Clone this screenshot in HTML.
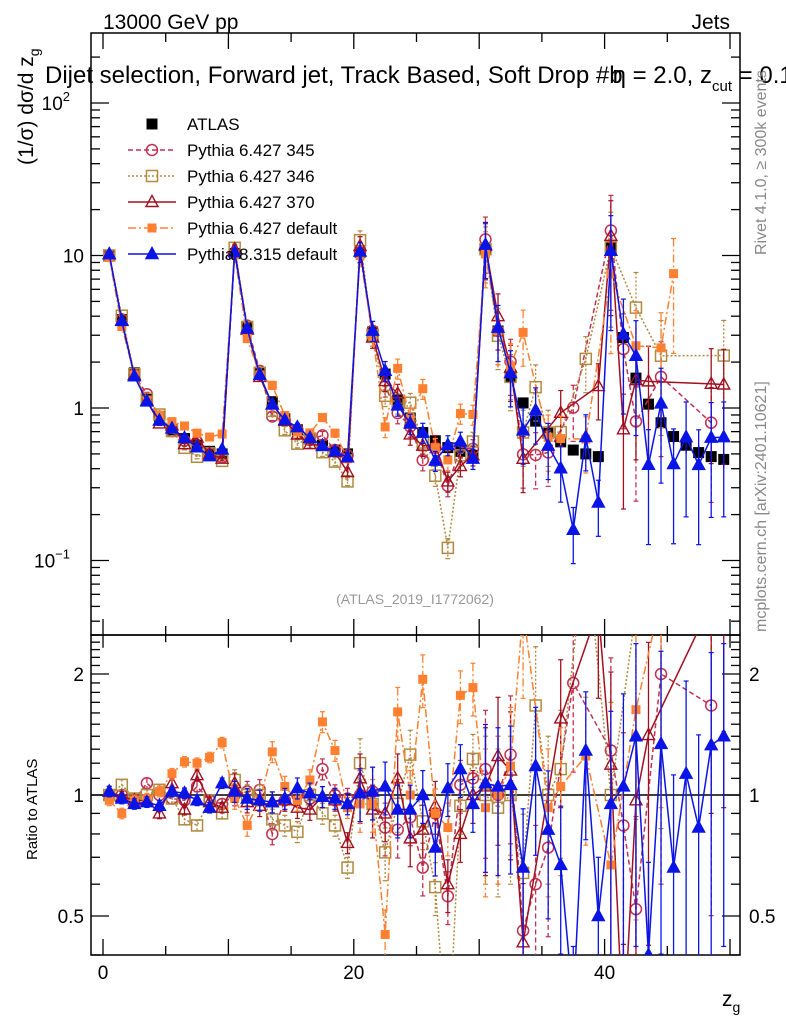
<!DOCTYPE html>
<html><head><meta charset="utf-8"><style>
html,body{margin:0;background:#fff;width:786px;height:1024px;overflow:hidden;}
svg{display:block;font-family:"Liberation Sans",sans-serif;}
</style></head><body>
<svg id="chart" width="786" height="1024" viewBox="0 0 786 1024" xmlns="http://www.w3.org/2000/svg">
<defs>
<clipPath id="clipMain"><rect x="91" y="33" width="649" height="602"/></clipPath>
<clipPath id="clipRatio"><rect x="91" y="635" width="649" height="320"/></clipPath>
</defs>
<rect x="0" y="0" width="786" height="1024" fill="#fff"/>
<text x="103" y="29" font-size="21">13000 GeV pp</text>
<text x="730" y="29" font-size="21" text-anchor="end">Jets</text>
<text x="45" y="83" font-size="24">Dijet selection, Forward jet, Track Based, Soft Drop #b<tspan dx="-10">η = 2.0, z</tspan><tspan font-size="15" dy="8">cut</tspan><tspan dy="-8"> = 0.1</tspan></text>
<text transform="translate(33,165) rotate(-90)" font-size="21">(1/σ) dσ/d z<tspan font-size="14" dy="6">g</tspan></text>
<text transform="translate(37,860) rotate(-90)" font-size="15">Ratio to ATLAS</text>
<text x="722" y="1006" font-size="21">z<tspan font-size="14" dy="6">g</tspan></text>
<text transform="translate(766,255) rotate(-90)" font-size="16" fill="#888">Rivet 4.1.0, ≥ 300k events</text>
<text transform="translate(766,632) rotate(-90)" font-size="16" fill="#888">mcplots.cern.ch [arXiv:2401.10621]</text>
<text x="415" y="604" font-size="14" fill="#999" text-anchor="middle">(ATLAS_2019_I1772062)</text>
<g id="axes"></g>
<g id="mainSeries" clip-path="url(#clipMain)"></g>
<g id="ratioSeries" clip-path="url(#clipRatio)"></g>
<g id="legend"></g>
</svg>
<script>
const atlasValues=[10,3.8,1.7,1.15,0.88,0.72,0.63,0.57,0.52,0.5,
10.3,3.4,1.7,1.1,0.85,0.72,0.63,0.57,0.53,0.5,
10.5,3.15,1.67,1.13,0.86,0.69,0.61,0.55,0.52,0.49,
11,3.2,1.6,1.08,0.82,0.69,0.6,0.53,0.5,0.48,
11.3,2.9,1.57,1.06,0.8,0.65,0.57,0.51,0.48,0.46];
const ratio345=[1.0,1.0,0.97,1.07,1.0,0.98,0.97,1.05,0.97,0.95,
1.0,1.02,1.03,0.8,0.97,1.0,0.98,1.16,1.0,0.98,
1.0,1.02,0.83,0.82,0.88,0.66,0.9,0.56,1.06,1.1,
1.16,1.0,1.26,0.46,0.6,0.74,null,1.9,null,null,
1.29,0.84,0.52,null,2.0,null,null,null,1.67,null];
const ratio346=[1.0,1.06,0.98,1.0,1.03,0.98,0.87,0.84,0.97,0.9,
1.09,1.0,1.0,0.87,0.84,0.81,1.0,0.9,0.84,0.66,
1.2,0.95,0.72,0.95,1.26,0.86,0.59,0.22,0.94,1.23,
1.0,0.93,1.0,0.64,1.67,1.0,1.16,null,4.2,null,
1.0,null,2.9,null,2.75,null,null,null,null,4.8];
const ratio370=[1.02,0.99,0.97,0.97,0.9,1.07,0.92,1.12,0.96,0.93,
1.07,0.96,0.94,0.96,0.97,0.93,0.92,0.99,0.97,0.76,
1.1,0.92,0.9,1.1,0.78,0.82,0.94,0.6,0.8,1.0,
1.05,1.25,1.15,0.43,null,null,1.55,null,null,2.9,
1.19,0.25,0.97,1.41,null,null,null,null,3.0,3.1];
const ratioDefault=[0.97,0.9,0.97,0.98,1.02,1.13,1.21,1.2,1.24,1.35,
0.98,0.84,0.97,1.28,1.05,0.97,1.09,1.52,1.29,0.93,
0.95,0.95,0.45,1.61,1.0,1.94,0.9,0.83,1.77,1.85,
0.93,1.0,1.18,2.9,null,0.93,1.05,null,1.25,null,
0.67,null,1.63,null,3.1,11.7,null,null,null,null];
const ratioP8=[1.02,0.98,0.95,0.96,0.94,1.02,1.01,0.97,0.93,1.07,
1.02,0.98,0.97,0.96,0.98,1.04,1.01,0.99,0.98,0.95,
1.01,1.02,1.05,0.92,0.92,1.0,0.74,1.04,1.16,0.95,
1.07,1.05,1.06,0.66,1.18,0.82,0.67,0.3,1.29,0.5,
0.95,1.05,1.4,0.4,1.34,0.66,1.13,0.83,1.33,1.4];
const blockErrMC=[0.03,0.06,0.15,0.4,0.7];
const blockErrData=[0.02,0.03,0.05,0.08,0.12];
const xTicks=[0,5,10,15,20,25,30,35,40,45,50];
const xTickLabels=["0","20","40"];
const NS="http://www.w3.org/2000/svg";
const X0=91,X1=740,MT=33,MB=635,RB=955;
function xs(z){return 103+12.54*z;}
function ym(v){return 408-152.5*Math.log10(v);}
function yr(r){return 795-402*Math.log10(r);}
function el(tag,attrs,parent){const e=document.createElementNS(NS,tag);for(const k in attrs)e.setAttribute(k,attrs[k]);parent.appendChild(e);return e;}
const axes=document.getElementById('axes');
let f1=el('rect',{x:X0,y:MT,width:X1-X0,height:MB-MT,fill:'none',stroke:'#000','stroke-width':1.5},axes);


let f2=el('rect',{x:X0,y:MB,width:X1-X0,height:RB-MB,fill:'none',stroke:'#000','stroke-width':1.5},axes);


let one=el('line',{x1:X0,x2:X1,y1:yr(1),y2:yr(1),stroke:'#000','stroke-width':1.5},axes);


xTicks.forEach(t=>{const x=xs(t);const L=(t%10===0)?16:9;
 [[MT,MT+L],[MB,MB-L],[MB,MB+L*0.8],[RB,RB-L]].forEach(p=>{const tk=el('line',{x1:x,x2:x,y1:p[0],y2:p[1],stroke:'#000','stroke-width':1.3},axes);
 
 });});
[0,20,40].forEach((t,i)=>{const tx=el('text',{x:xs(t),y:979,'font-size':19,'text-anchor':'middle'},axes);tx.textContent=xTickLabels[i];
 
 });
for(let d=-2;d<=2;d++){for(let m=1;m<=9;m++){const v=m*Math.pow(10,d);const y=ym(v);if(y<MT||y>MB)continue;const L=m===1?18:9;
 [[X0,X0+L],[X1,X1-L]].forEach(p=>{const tk=el('line',{x1:p[0],x2:p[1],y1:y,y2:y,stroke:'#000','stroke-width':1.3},axes);
 
 });}}
const ylabs=[[100,"10","2"],[10,"10",""],[1,"1",""],[0.1,"10","−1"]];
ylabs.forEach(l=>{const t=el('text',{x:l[2]?70:84,y:ym(l[0])+7,'font-size':19,'text-anchor':'end'},axes);t.textContent=l[1];
 if(l[2]){const s=el('tspan',{'font-size':13,dy:-9},t);s.textContent=l[2];}
 
 });
[0.4,0.5,0.6,0.7,0.8,0.9,1,1.1,1.2,1.3,1.4,1.5,1.6,1.7,1.8,1.9,2,2.1,2.2,2.3,2.4,2.5].forEach(r=>{const y=yr(r);if(y<MB||y>RB)return;const L=(r===0.5||r===1||r===2)?18:9;
 [[X0,X0+L],[X1,X1-L]].forEach(p=>{const tk=el('line',{x1:p[0],x2:p[1],y1:y,y2:y,stroke:'#000','stroke-width':1.3},axes);
 
 });});
[[2,"2"],[1,"1"],[0.5,"0.5"]].forEach(l=>{[[84,'end'],[749,'start']].forEach(p=>{const t=el('text',{x:p[0],y:yr(l[0])+7,'font-size':19,'text-anchor':p[1]},axes);t.textContent=l[1];
 
 });});
const series=[
 {name:'pythia6-345',r:ratio345,color:'#c03050',dash:'5,3',marker:'circle',fill:false,label:'Pythia 6.427 345'},
 {name:'pythia6-346',r:ratio346,color:'#b08a40',dash:'2,2',marker:'square',fill:false,label:'Pythia 6.427 346'},
 {name:'pythia6-370',r:ratio370,color:'#a01020',dash:'',marker:'triangle',fill:false,label:'Pythia 6.427 370'},
 {name:'pythia6-default',r:ratioDefault,color:'#ff8030',dash:'8,3,2,3',marker:'fsquare',fill:true,label:'Pythia 6.427 default'},
 {name:'pythia8-default',r:ratioP8,color:'#0a14e6',dash:'',marker:'triangle',fill:true,label:'Pythia 8.315 default'}];
function marker(g,type,x,y,color,fill){let m;
 if(type==='circle')m=el('circle',{cx:x,cy:y,r:5.5,fill:'none',stroke:color,'stroke-width':1.5},g);
 else if(type==='square')m=el('rect',{x:x-5.5,y:y-5.5,width:11,height:11,fill:'none',stroke:color,'stroke-width':1.5},g);
 else if(type==='fsquare')m=el('rect',{x:x-4.5,y:y-4.5,width:9,height:9,fill:color},g);
 else if(type==='atlas')m=el('rect',{x:x-5.5,y:y-5.5,width:11,height:11,fill:'#000'},g);
 else m=el('polygon',{points:`${x},${y-6.5} ${x-6},${y+4.5} ${x+6},${y+4.5}`,fill:fill?color:'none',stroke:color,'stroke-width':1.4},g);
 return m;}
const mainG=document.getElementById('mainSeries'),ratioG=document.getElementById('ratioSeries');
const aG=el('g',{},mainG);


atlasValues.forEach((v,i)=>{const x=xs(i+0.5),e=blockErrData[Math.floor(i/10)];
 el('line',{x1:x,x2:x,y1:ym(v*(1+e)),y2:ym(v*(1-e)),stroke:'#000','stroke-width':1.3},aG);
 const m=marker(aG,'atlas',x,ym(v),'#000',true);
 
 });
series.forEach(s=>{
 const gm=el('g',{},mainG),gr=el('g',{},ratioG);
 
 
 
 
 let pm=[],pr=[];
 s.r.forEach((r,i)=>{if(r===null)return;const v=r*atlasValues[i];const x=xs(i+0.5);pm.push([x,ym(v)]);pr.push([x,yr(r)]);});
 const st={fill:'none',stroke:s.color,'stroke-width':1.5};if(s.dash)st['stroke-dasharray']=s.dash;
 el('polyline',Object.assign({points:pm.map(p=>p.join(',')).join(' ')},st),gm);
 el('polyline',Object.assign({points:pr.map(p=>p.join(',')).join(' ')},st),gr);
 s.r.forEach((r,i)=>{if(r===null)return;const a=atlasValues[i],v=r*a,x=xs(i+0.5),e=blockErrMC[Math.floor(i/10)];
  const lo=Math.max(v*(1-e),1e-4),hi=v*(1+e);
  const es={stroke:s.color,'stroke-width':1.3};if(s.dash)es['stroke-dasharray']=s.dash;
  el('line',Object.assign({x1:x,x2:x,y1:ym(hi),y2:ym(lo)},es),gm);
  el('line',Object.assign({x1:x,x2:x,y1:yr(hi/a),y2:yr(lo/a)},es),gr);
  [ym(hi),ym(lo)].forEach(y=>el('line',{x1:x-2.5,x2:x+2.5,y1:y,y2:y,stroke:s.color,'stroke-width':1.2},gm));
  [yr(hi/a),yr(lo/a)].forEach(y=>el('line',{x1:x-2.5,x2:x+2.5,y1:y,y2:y,stroke:s.color,'stroke-width':1.2},gr));
  const m1=marker(gm,s.marker,x,ym(v),s.color,s.fill);
  
  
  const m2=marker(gr,s.marker,x,yr(r),s.color,s.fill);
  
  });
});
const lg=document.getElementById('legend');


const le0=el('g',{},lg);


marker(le0,'atlas',152,124,'#000',true);
let t0=el('text',{x:187,y:130,'font-size':17},le0);t0.textContent='ATLAS';
series.forEach((s,k)=>{const y=150+26*k;const g=el('g',{},lg);
 
 
 const st={x1:128,x2:176,y1:y,y2:y,stroke:s.color,'stroke-width':1.5};if(s.dash)st['stroke-dasharray']=s.dash;
 el('line',st,g);marker(g,s.marker,152,y,s.color,s.fill);
 const t=el('text',{x:187,y:y+6,'font-size':17},g);t.textContent=s.label;});
</script>
</body></html>
